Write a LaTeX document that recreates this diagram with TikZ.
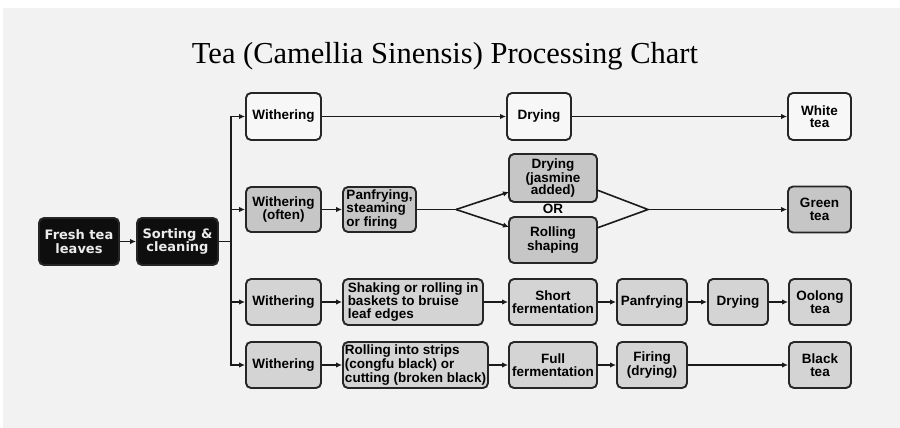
\documentclass[tikz,border=0pt]{standalone}
\usepackage{fontspec}
\setmainfont{Liberation Sans}
\newfontfamily\titlefont{Liberation Serif}
\newfontfamily\darkfont{DejaVu Sans}
\usetikzlibrary{arrows.meta}
\definecolor{bgpanel}{HTML}{F2F2F2}
\definecolor{boxline}{HTML}{262626}
\definecolor{conn}{HTML}{1A1A1A}
\definecolor{fillwhite}{HTML}{F7F7F7}
\definecolor{fillmid}{HTML}{C6C6C6}
\definecolor{filllight}{HTML}{D4D4D4}
\definecolor{filldark}{HTML}{0E0E0E}
\begin{document}
\begin{tikzpicture}[x=1pt,y=-1pt,
  box/.style={draw=boxline, line width=1.9pt, rounded corners=5pt,
    minimum height=47pt, inner sep=1.5pt,
    font=\fontsize{13.5}{12.6}\selectfont\bfseries, align=center, text=black},
  wbox/.style={box, fill=fillwhite},
  gbox/.style={box, fill=fillmid},
  lbox/.style={box, fill=filllight},
  dbox/.style={box, fill=filldark, text=white!92!black,
    font=\darkfont\fontsize{13}{13.5}\selectfont\bfseries},
  conline/.style={draw=conn, line width=1.6pt},
  arr/.style={conline, -{Latex[length=6pt,width=5.5pt]}},
  titletext/.style={font=\titlefont\fontsize{30.5}{32}\selectfont, text=black}
]
\useasboundingbox (0,0) rectangle (900,428);
\fill[white] (0,0) rectangle (900,428);
\fill[bgpanel] (3,8) rectangle (900,428);

\node[titletext, anchor=base] (title) at (445,64) {Tea (Camellia Sinensis) Processing Chart};

% start
\node[dbox, minimum width=80pt] (fresh) at (79,241.5) {Fresh tea\\leaves};
\node[dbox, minimum width=81pt] (sort) at (177.5,241.5) {Sorting \&\\cleaning};

% row 1
\node[wbox, minimum width=75pt] (w1) at (283.5,116.5) {Withering};
\node[wbox, minimum width=64pt] (d1) at (539,116.5) {Drying};
\node[wbox, minimum width=63pt] (white) at (819.5,116.5) {White\\tea};

% row 2
\node[gbox, minimum width=75pt, minimum height=45pt] (w2) at (283.5,209.5) {Withering\\(often)};
\node[gbox, minimum width=73pt, minimum height=45pt, align=left] (pan2) at (379.5,209.5) {Panfrying,\\steaming\\or firing};
\node[gbox, minimum width=88pt, minimum height=48pt] (jas) at (553,178) {Drying\\(jasmine\\added)};
\node[font=\fontsize{13.5}{13}\selectfont\bfseries, inner sep=0pt] (or) at (553,209) {OR};
\node[gbox, minimum width=88pt, minimum height=46pt] (roll) at (553,240) {Rolling\\shaping};
\node[gbox, minimum width=63pt, minimum height=46pt] (green) at (819.5,209.5) {Green\\tea};

% row 3
\node[lbox, minimum width=75pt, minimum height=46pt] (w3) at (283.5,302) {Withering};
\node[lbox, minimum width=140pt, minimum height=46pt, align=left] (shake) at (413,302) {Shaking or rolling in\\baskets to bruise\\leaf edges};
\node[lbox, minimum width=88pt, minimum height=46pt] (short) at (553,302) {Short\\fermentation};
\node[lbox, minimum width=70pt, minimum height=46pt] (pan3) at (652,302) {Panfrying};
\node[lbox, minimum width=60pt, minimum height=46pt] (dry3) at (738,302) {Drying};
\node[lbox, minimum width=62pt, minimum height=46pt] (oolong) at (820,302) {Oolong\\tea};

% row 4
\node[lbox, minimum width=75pt, minimum height=46pt] (w4) at (283.5,365) {Withering};
\node[lbox, minimum width=145pt, minimum height=46pt, align=left] (strip) at (415.5,365) {Rolling into strips\\(congfu black) or\\cutting (broken black)};
\node[lbox, minimum width=88pt, minimum height=46pt] (full) at (553,365) {Full\\fermentation};
\node[lbox, minimum width=70pt, minimum height=46pt] (firing) at (652,365) {Firing\\(drying)};
\node[lbox, minimum width=62pt, minimum height=46pt] (black) at (820,365) {Black\\tea};

% trunk
\coordinate (trunkT) at (231,116.5);
\coordinate (trunkB) at (231,365);
\draw[arr] (fresh) -- (sort);
\draw[conline] (sort.east) -- (sort.east -| trunkT);
\draw[conline, line cap=rect] (trunkT) -- (trunkB);
\draw[arr] (trunkT) -- (w1);
\draw[arr] (w2 -| trunkT) -- (w2);
\draw[arr] (w3 -| trunkT) -- (w3);
\draw[arr] (trunkB) -- (w4);

% row 1
\draw[arr] (w1) -- (d1);
\draw[arr] (d1) -- (white);

% row 2
\coordinate (split) at (456,209.5);
\coordinate (merge) at (648,209.5);
\coordinate (jasin) at (509,192);
\coordinate (rollin) at (509,227);
\coordinate (jasout) at (597,190);
\coordinate (rollout) at (597,228);
\draw[arr] (w2) -- (pan2);
\draw[conline] (pan2.east) -- (split);
\draw[arr] (split) -- (jasin);
\draw[arr] (split) -- (rollin);
\draw[conline, line join=miter] (jasout) -- (merge) -- (rollout);
\draw[arr] (merge) -- (green);

% row 3
\draw[arr] (w3) -- (shake);
\draw[arr] (shake) -- (short);
\draw[arr] (short) -- (pan3);
\draw[arr] (pan3) -- (dry3);
\draw[arr] (dry3) -- (oolong);

% row 4
\draw[arr] (w4) -- (strip);
\draw[arr] (strip) -- (full);
\draw[arr] (full) -- (firing);
\draw[arr] (firing) -- (black);
\end{tikzpicture}
\end{document}
